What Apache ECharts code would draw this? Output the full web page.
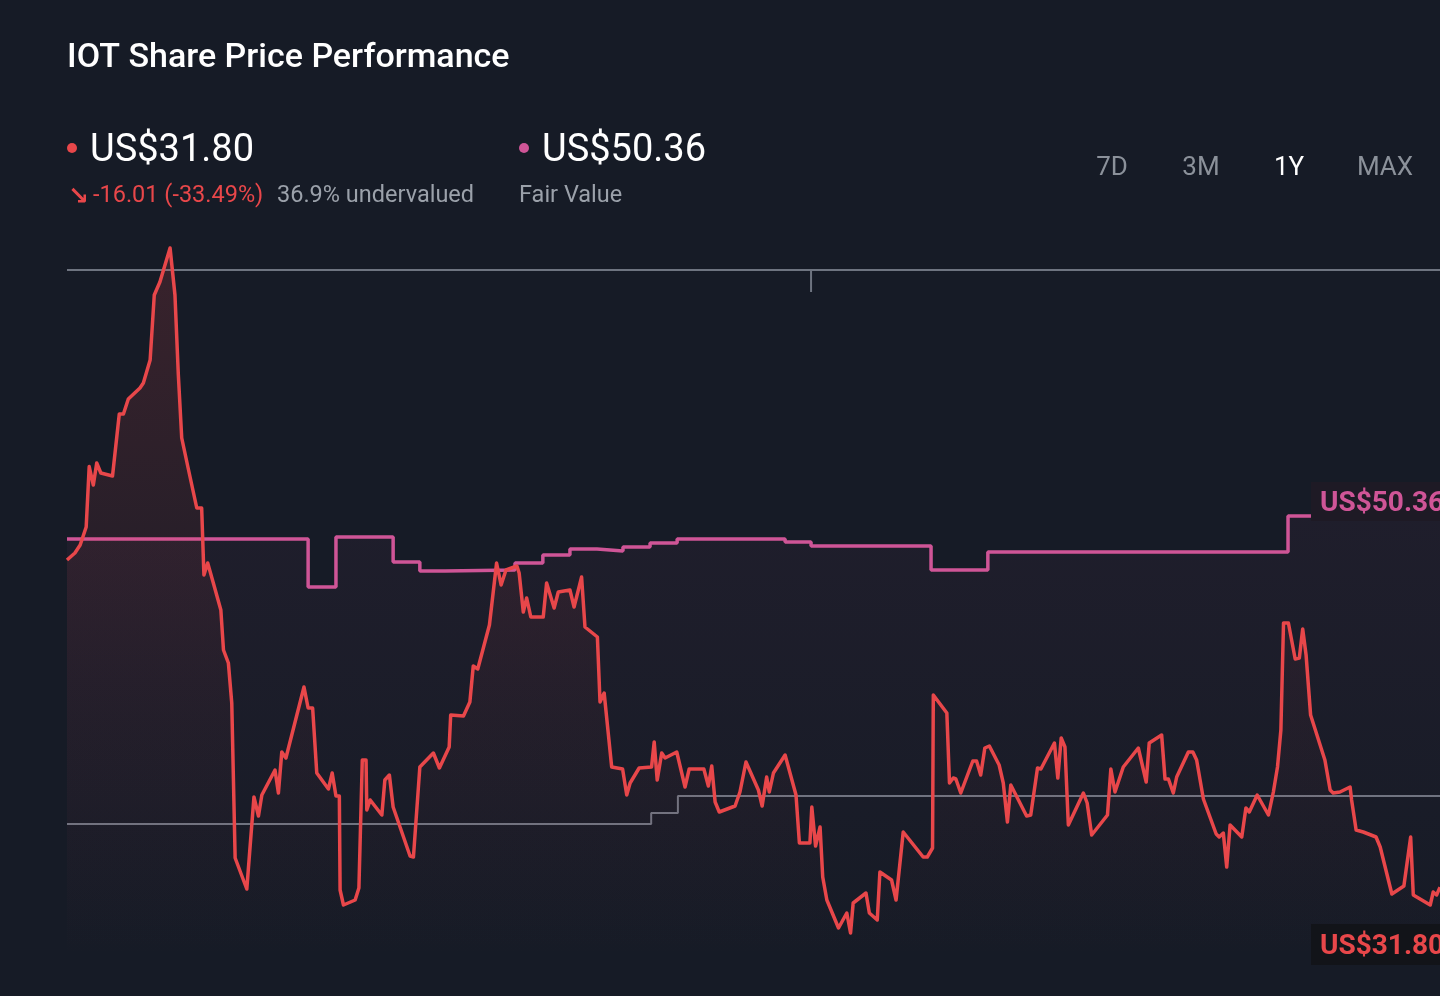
<!DOCTYPE html>
<html>
<head>
<meta charset="utf-8">
<script src="https://cdn.jsdelivr.net/npm/echarts@6/dist/echarts.min.js"></script>
<style>
html,body{margin:0;padding:0;background:#161b26;}
#chart{width:1440px;height:996px;}
</style>
</head>
<body>
<div id="chart"></div>
<script>
// Days since start of the 1Y window
const priceDays = [0,2.1,3.5,5.1,5.9,7.0,7.9,9.0,12.1,13.9,
15.0,16.3,19.4,20.3,22.1,23.2,24.7,27.4,28.7,29.6,
30.5,32.2,34.5,35.8,36.4,37.4,38.9,40.9,41.6,42.9,
43.8,44.7,47.8,49.7,50.9,51.8,55.3,56.2,57.1,58.2,
63.0,64.1,65.3,66.4,69.5,70.5,71.5,72.4,72.6,73.5,
76.6,77.6,78.5,79.5,79.7,80.6,83.7,84.5,85.7,86.7,
91.2,92.1,93.8,97.4,99.0,101.6,102.0,105.4,107.1,108.0,
109.2,112.3,114.2,115.4,116.7,119.6,120.2,121.3,122.2,123.3,
126.6,127.5,129.5,130.6,133.7,134.8,136.8,137.7,141.0,141.7,
142.8,144.8,147.7,148.8,149.7,152.1,155.4,156.1,156.9,158.1,
159.0,162.1,164.3,165.4,169.3,170.5,171.4,172.3,173.4,177.6,
178.9,180.5,183.8,184.8,186.0,186.7,187.8,190.9,193.8,194.7,
197.5,198.0,199.0,200.2,200.9,202.0,205.1,207.3,208.3,209.0,
212.4,213.3,215.4,216.1,219.2,220.4,222.3,227.6,228.7,230.1,
230.3,233.9,234.6,235.6,236.3,237.6,240.8,241.8,242.9,244.0,
245.2,247.8,248.9,250.0,250.9,255.1,256.2,258.0,258.9,262.5,
263.4,264.3,265.3,266.2,270.2,271.2,272.4,276.6,277.5,278.6,
280.8,284.8,286.9,287.7,291.0,291.9,292.8,294.1,295.0,298.1,
299.3,300.3,302.1,305.5,306.3,307.4,308.3,309.2,312.3,313.4,
314.3,316.4,319.4,320.7,321.8,322.7,323.4,324.7,326.5,327.6,
328.5,329.4,330.6,334.4,335.8,336.6,338.4,341.1,341.5,342.7,
344.6,348.0,349.1,352.2,355.4,357.2,357.9,362.4,363.2,364.1,
365];
const priceValues = [48.16,48.51,48.91,49.81,52.83,51.91,53.01,52.51,52.36,55.46,
55.46,56.21,56.76,57.01,58.16,61.41,62.06,63.76,61.41,57.41,
54.26,52.76,50.76,50.76,47.41,48.01,47.01,45.66,43.66,43.01,
41.01,33.26,31.71,36.31,35.36,36.41,37.66,36.51,38.56,38.26,
41.81,40.76,40.76,37.51,36.71,37.51,36.36,36.36,31.66,30.91,
31.16,31.76,38.16,38.16,35.66,36.16,35.41,37.16,37.41,35.81,
33.36,33.31,37.81,38.51,37.76,38.81,40.41,40.36,41.06,42.86,
42.71,44.91,48.01,46.91,47.66,47.86,47.51,45.56,46.26,45.31,
45.31,47.01,45.76,46.56,46.66,45.81,47.31,44.81,44.31,41.06,
41.51,37.81,37.71,36.41,37.01,37.76,37.81,39.06,37.16,38.51,
38.26,38.56,36.81,37.71,37.71,36.86,37.86,36.06,35.56,35.86,
36.56,38.06,36.66,35.86,37.31,36.56,37.51,38.41,36.41,34.01,
34.01,35.81,33.86,34.81,32.31,31.16,29.76,30.51,29.51,31.01,
31.51,30.51,30.16,32.56,32.16,31.16,34.56,33.31,33.31,33.76,
41.41,40.51,37.01,37.26,37.21,36.51,38.11,38.11,37.41,38.76,
38.86,37.91,37.01,35.06,36.91,35.36,35.41,37.76,37.71,39.01,
37.26,39.26,38.81,34.91,36.51,36.01,34.41,35.41,37.71,36.56,
37.81,38.76,37.06,39.01,39.41,37.21,37.21,36.51,37.31,38.56,
38.56,38.16,36.21,34.46,34.31,34.51,32.81,34.91,34.31,35.76,
35.56,36.41,35.41,36.56,37.81,39.66,45.01,45.01,43.21,43.26,
44.71,43.41,40.41,38.16,36.66,36.51,36.56,36.81,36.16,34.66,
34.56,34.31,33.81,31.46,31.86,34.31,31.41,30.91,31.56,31.41,
31.80];

const fairDays   = [0,64.1,71.5,86.7,93.8,100.5,119.1,126.5,133.7,140.9,147.8,155.0,162.2,190.9,197.8,229.7,244.8,324.6,365];
const fairValues = [49.21,46.81,49.31,48.06,47.61,47.66,48.01,48.41,48.71,48.61,48.81,49.01,49.21,49.06,48.86,47.66,48.56,50.36,50.36];

const lowDays   = [0,155.3,162.4,365];
const lowValues = [34.96,35.51,36.36,36.36];

const highDays   = [0,365];
const highValues = [62.66,62.66];
const tickDays   = [197.8,197.8];
const tickValues = [62.66,61.56];

const headerPrice = 'US$31.80';
const headerChange = '-16.01 (-33.49%)';
const headerValuation = '36.9% undervalued';
const headerFair = 'US$50.36';
const ranges = ['7D','3M','1Y','MAX'];

const RED = '#e8474a';
const PINK = '#cf5597';
const GRAY = '#6e7480';

const zip = (a,b) => a.map((d,i)=>[d,b[i]]);

const chart = echarts.init(document.getElementById('chart'), null, {renderer:'canvas'});

const rangeX = [1112,1201,1289,1385];

chart.setOption({
  backgroundColor:'#161b26',
  animation:false,
  grid:{left:67,right:0,top:243.2,height:720,containLabel:false},
  xAxis:{type:'value',min:0,max:365,show:false},
  yAxis:{type:'value',min:28,max:64,show:false},
  series:[
    {type:'line',data:zip(highDays,highValues),symbol:'none',lineStyle:{color:GRAY,width:2},z:1,silent:true},
    {type:'line',data:zip(tickDays,tickValues),symbol:'none',lineStyle:{color:GRAY,width:2},z:1,silent:true},
    {type:'line',data:zip(lowDays,lowValues),step:'end',symbol:'none',lineStyle:{color:GRAY,width:2},z:1,silent:true},
    {type:'line',data:zip(fairDays,fairValues),step:'end',symbol:'none',
      lineStyle:{color:PINK,width:3.5},
      areaStyle:{color:new echarts.graphic.LinearGradient(0,0,0,1,[
        {offset:0,color:'rgba(207,85,151,0.07)'},{offset:1,color:'rgba(207,85,151,0.0)'}])},
      z:2,silent:true},
    {type:'line',data:zip(priceDays,priceValues),symbol:'none',
      lineStyle:{color:RED,width:3.5,join:'round'},
      areaStyle:{color:new echarts.graphic.LinearGradient(0,0,0,1,[
        {offset:0,color:'rgba(232,71,74,0.24)'},{offset:0.6,color:'rgba(232,71,74,0.07)'},{offset:1,color:'rgba(232,71,74,0.0)'}])},
      z:3,silent:true}
  ],
  graphic:[
    {type:'text',x:67,y:58,style:{text:'IOT Share Price Performance',fill:'#ffffff',font:'500 34px Roboto',verticalAlign:'middle'}},
    {type:'circle',shape:{cx:72,cy:148,r:5},style:{fill:RED}},
    {type:'text',x:90,y:151,style:{text:headerPrice,fill:'#ffffff',font:'400 38px Roboto',verticalAlign:'middle'}},
    {type:'text',x:68,y:197,style:{text:'↘',fill:RED,font:'bold 25px "DejaVu Sans"',verticalAlign:'middle'}},
    {type:'text',x:93,y:196,style:{text:headerChange,fill:RED,font:'400 23.5px Roboto',verticalAlign:'middle'}},
    {type:'text',x:277,y:196,style:{text:headerValuation,fill:'#9ba1aa',font:'400 23.5px Roboto',verticalAlign:'middle'}},
    {type:'circle',shape:{cx:524,cy:148,r:5},style:{fill:PINK}},
    {type:'text',x:542,y:151,style:{text:headerFair,fill:'#ffffff',font:'400 38px Roboto',verticalAlign:'middle'}},
    {type:'text',x:519,y:196,style:{text:'Fair Value',fill:'#9ba1aa',font:'400 23.5px Roboto',verticalAlign:'middle'}},
    ...ranges.map((r,i)=>({type:'text',x:rangeX[i],y:168,style:{text:r,fill:r==='1Y'?'#ffffff':'#8b919a',font:'400 26px Roboto',align:'center',verticalAlign:'middle'}})),
    {type:'rect',shape:{x:1311,y:482,width:140,height:39},style:{fill:'#1e1a25'},z:10},
    {type:'text',x:1320,y:504,style:{text:'US$50.36',fill:PINK,font:'bold 28px Roboto',verticalAlign:'middle'},z:11},
    {type:'rect',shape:{x:1311,y:924,width:140,height:41},style:{fill:'#121419'},z:10},
    {type:'text',x:1320,y:947,style:{text:'US$31.80',fill:RED,font:'bold 28px Roboto',verticalAlign:'middle'},z:11}
  ]
});
</script>
</body>
</html>
